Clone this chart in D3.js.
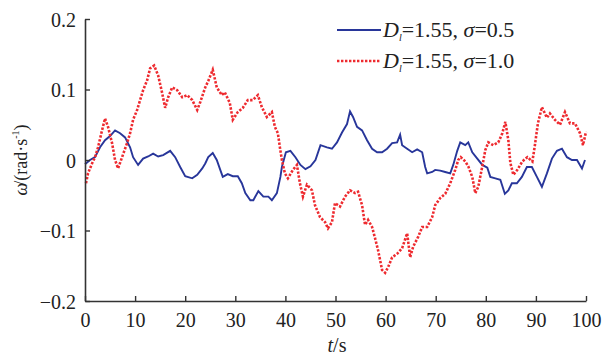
<!DOCTYPE html>
<html><head><meta charset="utf-8">
<script src="https://cdn.jsdelivr.net/npm/d3@7"></script>
<style>body{margin:0;background:#fff}svg{display:block}svg text{font-family:'Liberation Serif','Times New Roman',serif !important}</style>
</head><body>
<script>
const xTicks=[0,10,20,30,40,50,60,70,80,90,100];
const yTicks=[-0.2,-0.1,0,0.1,0.2];
const yTickLabels=["\u22120.2","\u22120.1","0","0.1","0.2"];
const seriesNames=["σ=0.5","σ=1.0"];
const blueT=[0,1,2,3,4,5,6,7,8,9,9.6,10.6,11.6,12.6,13.6,14.6,15.6,17,18,19,20,21.4,22.4,23.4,24,24.6,25.5,26.3,27,27.5,28.5,29.5,30.5,31.3,32,33,33.6,34.6,35.6,36.6,37.3,38.3,39,39.3,40.1,41,42,43,44,45,46,47,48.3,49.3,50.3,51.3,52.3,52.9,53.5,54.3,55.3,56.3,57.3,58.3,59.3,60.3,61.3,62.3,62.9,63.3,64.3,65.3,66.3,67.3,67.9,68.3,69.3,69.9,70.9,71.9,72.9,73.5,74.3,74.9,75.9,76.5,77.3,78.3,79.3,80.3,80.9,81.9,82.9,83.8,84.5,85.2,86.2,87.2,88.2,89.2,90.2,91.2,92.2,93.2,94.2,95.2,96.2,97.2,98.2,99.2,99.8];
const blueV=[-0.006,0,0.004,0.018,0.028,0.034,0.042,0.038,0.032,0.018,0.004,-0.007,0.002,0.005,0.009,0.005,0.007,0.013,0.004,-0.01,-0.023,-0.026,-0.021,-0.012,-0.005,0.004,0.01,0,-0.014,-0.024,-0.02,-0.023,-0.023,-0.033,-0.047,-0.057,-0.057,-0.044,-0.052,-0.052,-0.057,-0.047,-0.024,-0.01,0.011,0.013,0.004,-0.007,-0.013,-0.009,0,0.021,0.018,0.016,0.025,0.039,0.051,0.069,0.061,0.047,0.042,0.028,0.016,0.011,0.011,0.016,0.024,0.025,0.036,0.021,0.016,0.011,0.015,0.011,-0.01,-0.019,-0.017,-0.014,-0.015,-0.017,-0.019,-0.007,0.013,0.025,0.021,0.025,0.011,0.002,-0.007,-0.011,-0.024,-0.026,-0.028,-0.048,-0.043,-0.033,-0.033,-0.024,-0.01,-0.01,-0.024,-0.038,-0.019,0.002,0.013,0.016,0.004,0,0,-0.012,0];
const redT=[0.2,0.6,1.4,2,2.6,3.4,4,4.6,5.4,6,6.6,7.4,8.4,9,9.6,10.4,11,11.6,12.4,13,13.8,14.6,15.4,16,16.6,17.4,18.4,19.4,20.4,21.4,22.4,23,24,24.6,25.5,26.3,27.3,27.9,28.9,29.5,30.5,31.5,32.5,33.5,34.5,35.3,36.3,37.3,37.9,38.5,38.9,39.3,39.9,40.5,41.5,42.3,42.9,43.5,44.3,45.3,45.9,46.9,47.9,48.5,49.3,49.9,50.9,51.9,52.9,53.9,54.5,55.3,55.9,56.5,57.3,57.9,58.5,59.3,59.9,60.5,61.3,62.3,63.3,64.3,64.9,65.5,66.5,67.3,68.3,69.3,69.9,70.9,71.9,72.9,73.9,74.5,75,75.9,76.5,77.3,77.9,78.5,79.3,79.9,80.5,81.5,82.5,83.3,83.9,84.5,84.9,85.5,86.3,87.3,88.3,89.3,89.8,90.4,91.2,92.2,92.8,93.8,94.8,95.8,96.8,97.8,98.8,99.4,100];
const redV=[-0.033,-0.019,-0.005,0.004,0.018,0.042,0.059,0.047,0.024,0,-0.012,0.004,0.024,0.038,0.057,0.071,0.085,0.099,0.113,0.13,0.134,0.12,0.095,0.074,0.089,0.103,0.099,0.089,0.092,0.085,0.071,0.082,0.103,0.112,0.128,0.103,0.092,0.096,0.081,0.057,0.068,0.074,0.085,0.085,0.092,0.075,0.061,0.068,0.047,0.038,0.018,0,-0.019,-0.026,-0.014,-0.007,-0.033,-0.052,-0.035,-0.043,-0.064,-0.081,-0.088,-0.097,-0.088,-0.061,-0.066,-0.052,-0.043,-0.047,-0.045,-0.064,-0.092,-0.085,-0.095,-0.111,-0.128,-0.156,-0.16,-0.152,-0.138,-0.133,-0.125,-0.104,-0.138,-0.123,-0.109,-0.095,-0.095,-0.081,-0.064,-0.054,-0.048,-0.033,-0.014,0,0.004,-0.002,-0.009,-0.024,-0.047,-0.038,-0.009,0.014,0.025,0.021,0.025,0.038,0.054,0.028,-0.004,-0.021,-0.014,-0.002,0.004,-0.002,0.021,0.052,0.075,0.06,0.066,0.057,0.05,0.068,0.052,0.052,0.038,0.021,0.04];

const W=611,H=360;
const svg=d3.select("body").append("svg").attr("width",W).attr("height",H);
const x=d3.scaleLinear().domain([0,100]).range([85,586]);
const y=d3.scaleLinear().domain([-0.2,0.2]).range([301,19]);
const axisColor="#333";

// data lines
const line=d3.line().x(d=>x(d[0])).y(d=>y(d[1]));
svg.append("path").datum(blueT.map((t,i)=>[t,blueV[i]]))
  .attr("d",line).attr("fill","none").attr("stroke","#28369a").attr("stroke-width",1.9);
svg.append("path").datum(redT.map((t,i)=>[t,redV[i]]))
  .attr("d",line).attr("fill","none").attr("stroke","#ee2a2f").attr("stroke-width",2.6).attr("stroke-dasharray","2.4,1.6");

// axes
const gx=svg.append("g").attr("transform","translate(0,301)")
  .call(d3.axisBottom(x).tickValues(xTicks).tickSize(-5).tickSizeOuter(0).tickPadding(12).tickFormat(d3.format("d")));
const gy=svg.append("g").attr("transform","translate(85,0)")
  .call(d3.axisLeft(y).tickValues(yTicks).tickSize(-5).tickSizeOuter(0).tickPadding(9).tickFormat((d,i)=>yTickLabels[i]));
[gx,gy].forEach(g=>{
  g.attr("font-family",null).attr("font-size",null);
  g.selectAll("path").attr("stroke",axisColor).attr("stroke-width",1.6);
  g.selectAll("line").attr("stroke",axisColor).attr("stroke-width",1.4);
  g.selectAll("text").style("font-size","20px").attr("fill","#222");
});
gy.selectAll("text").attr("dy","0.35em");

// axis titles
const xt=svg.append("text").attr("x",337).attr("y",352).attr("text-anchor","middle")
  .style("font-size","20px").attr("fill","#222");
xt.append("tspan").attr("font-style","italic").text("t");
xt.append("tspan").text("/s");

const yt=svg.append("text").attr("transform","translate(27,160) rotate(-90)").attr("text-anchor","middle")
  .style("font-size","18px").attr("fill","#222");
yt.append("tspan").attr("font-style","italic").text("ω");
yt.append("tspan").attr("dx",-3).text("/(rad·s");
yt.append("tspan").style("font-size","10px").attr("dy",-8).text("-1");
yt.append("tspan").attr("dy",8).text(")");

// legend
const leg=[{c:"#28369a",w:1.8,dash:null,y:30,name:seriesNames[0]},{c:"#ee2a2f",w:2.6,dash:"2.4,1.6",y:61,name:seriesNames[1]}];
leg.forEach(l=>{
  svg.append("line").attr("x1",337).attr("x2",381).attr("y1",l.y).attr("y2",l.y)
    .attr("stroke",l.c).attr("stroke-width",l.w).attr("stroke-dasharray",l.dash);
  const t=svg.append("text").attr("x",383).attr("y",l.y+7)
    .style("font-size","22px").attr("fill","#222");
  t.append("tspan").attr("font-style","italic").text("D");
  t.append("tspan").attr("font-style","italic").style("font-size","10px").attr("dy",4).text("l");
  t.append("tspan").attr("dy",-4).text("=1.55, ");
  t.append("tspan").attr("font-style","italic").text("σ");
  t.append("tspan").text(l.name.slice(1));
});
</script>
</body></html>
